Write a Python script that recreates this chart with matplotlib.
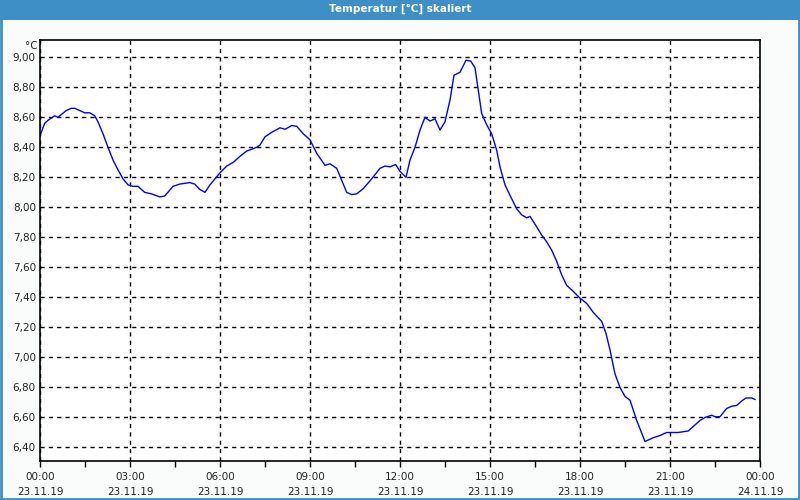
import matplotlib
matplotlib.use("Agg")
import matplotlib.pyplot as plt
from matplotlib.patches import Rectangle

# Temperature curve (pixel x -> hour, value in degC)
px = [40.7, 44.7, 48, 54.7, 58, 60.7, 66.3, 71.3, 74.7, 79.7, 84.7, 89.7, 94.7, 98,
      103, 108, 113, 118, 123, 128, 133, 138, 144.7, 151.3, 159.7, 164.7, 173, 179.7,
      189.7, 194.7, 199.7, 205, 210, 220, 226.7, 233.3, 240, 246.7, 256.7, 260, 265,
      271.7, 280, 285, 291.7, 296.7, 303.3, 310, 316.7, 325, 330, 336.7, 341.7, 346.7,
      351.7, 356.7, 363.3, 371.7, 380, 385, 390, 395.7, 400, 406, 410, 415, 420, 425,
      430, 435, 440, 445, 450, 454, 460, 466, 470.7, 475, 478.3, 481.7, 486.7, 491.7,
      496.7, 500, 505, 510, 516.7, 521.7, 526.7, 530, 536.7, 541.7, 546.7, 551.7,
      556.7, 561.7, 566.7, 573.3, 580, 586.7, 593.3, 601.7, 606, 610, 615, 620, 625,
      630, 636.7, 645, 653.3, 660, 666.7, 671.7, 678.3, 688.3, 693.3, 700, 705, 711.7,
      715, 720, 726.7, 731.7, 736.7, 741.7, 746, 751.7, 755]
temps = [8.49, 8.56, 8.58, 8.61, 8.60, 8.615, 8.645, 8.66, 8.66, 8.645, 8.63, 8.63, 8.61, 8.57,
         8.49, 8.40, 8.315, 8.25, 8.19, 8.15, 8.14, 8.14, 8.10, 8.09, 8.07, 8.075, 8.14, 8.155,
         8.165, 8.155, 8.12, 8.10, 8.15, 8.23, 8.275, 8.30, 8.34, 8.375, 8.40, 8.415, 8.47,
         8.50, 8.53, 8.52, 8.545, 8.54, 8.49, 8.45, 8.36, 8.28, 8.29, 8.26, 8.18, 8.10,
         8.085, 8.09, 8.125, 8.19, 8.26, 8.275, 8.27, 8.285, 8.24, 8.20, 8.315, 8.40, 8.515, 8.60,
         8.575, 8.59, 8.515, 8.57, 8.715, 8.88, 8.90, 8.98, 8.975, 8.93, 8.78, 8.625, 8.55, 8.49,
         8.38, 8.27, 8.15, 8.08, 7.99, 7.95, 7.93, 7.94, 7.87, 7.815, 7.77, 7.715,
         7.64, 7.55, 7.48, 7.44, 7.395, 7.36, 7.30, 7.24, 7.16, 7.05, 6.89, 6.80, 6.74,
         6.715, 6.58, 6.44, 6.465, 6.48, 6.50, 6.50, 6.50, 6.51, 6.54, 6.58, 6.60, 6.615,
         6.605, 6.605, 6.66, 6.675, 6.68, 6.71, 6.73, 6.73, 6.72]
hours = [(x - 40) / 30.0 for x in px]

xticks = [0, 3, 6, 9, 12, 15, 18, 21, 24]
xlabels = ["00:00\n23.11.19", "03:00\n23.11.19", "06:00\n23.11.19", "09:00\n23.11.19",
           "12:00\n23.11.19", "15:00\n23.11.19", "18:00\n23.11.19", "21:00\n23.11.19",
           "00:00\n24.11.19"]
yticks = [6.4, 6.6, 6.8, 7.0, 7.2, 7.4, 7.6, 7.8, 8.0, 8.2, 8.4, 8.6, 8.8, 9.0]

title = "Temperatur [°C] skaliert"
barblue = "#3d8fc5"

plt.rcParams['font.family'] = ['DejaVu Sans']
fig = plt.figure(figsize=(8, 5), dpi=100, facecolor="#fafcfb")

# window frame + title bar
fig.patches.append(Rectangle((0, 1 - 20 / 500), 1, 20 / 500, transform=fig.transFigure,
                             facecolor=barblue, edgecolor="none", zorder=0))
fig.patches.append(Rectangle((0.001, 0.002), 0.998, 0.996, transform=fig.transFigure,
                             facecolor="none", edgecolor=barblue, linewidth=2, zorder=0))
fig.text(0.5, 1 - 9 / 500, title, color="white", fontsize=7.5, fontweight="bold",
         ha="center", va="center")

ax = fig.add_axes([40 / 800, 39 / 500, 720 / 800, 421 / 500])
ax.set_facecolor("white")
ax.plot(hours, temps, color="#0000ff", linewidth=1)

ax.set_xlim(0, 24)
ax.set_ylim(6.31, 9.115)
ax.set_xticks(xticks)
ax.set_xticklabels(xlabels, linespacing=1.55)
ax.set_xticks([1.5, 4.5, 7.5, 10.5, 13.5, 16.5, 19.5, 22.5], minor=True)
ax.set_yticks(yticks)
ax.set_yticklabels([("%.2f" % v).replace(".", ",") for v in yticks])

ax.tick_params(axis="x", which="both", length=4, width=1, color="black", direction="out",
               labelsize=7.5, pad=4, labelcolor="#222222")
ax.tick_params(axis="y", length=0, pad=3, labelsize=7.5, labelcolor="#222222")
for lab in ax.get_xticklabels():
    lab.set_horizontalalignment("center")

ax.grid(True, which="major", color="black", linestyle=(0, (3, 3)), linewidth=1)
for s in ax.spines.values():
    s.set_linewidth(1.2)
    s.set_color("black")

ax.annotate("°C", xy=(0, 1), xycoords="axes fraction", xytext=(-2, -4),
            textcoords="offset points", ha="right", va="center", fontsize=7.5,
            color="#222222")

fig.savefig("out.png", dpi=100, facecolor=fig.get_facecolor())
